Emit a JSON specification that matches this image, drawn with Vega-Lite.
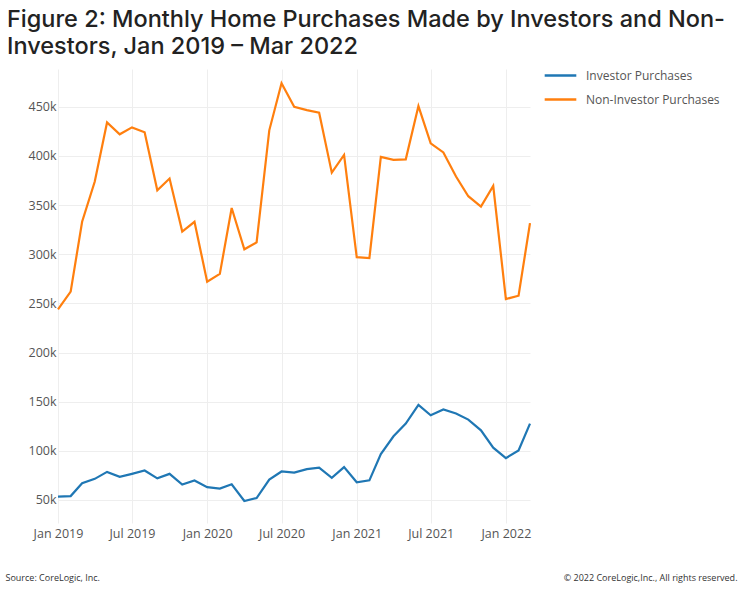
{
  "$schema": "https://vega.github.io/schema/vega-lite/v6.json",
  "width": 472,
  "height": 454,
  "autosize": {"type": "none"},
  "padding": {"left": 58, "top": 69, "right": 210, "bottom": 71},
  "background": "white",
  "title": {
    "text": ["Figure 2: Monthly Home Purchases Made by Investors and Non-", "Investors, Jan 2019 – Mar 2022"],
    "anchor": "start",
    "frame": "group",
    "dx": -51,
    "offset": 0,
    "font": "Inter",
    "fontSize": 23.5,
    "fontWeight": 500,
    "color": "#222222",
    "lineHeight": 27
  },
  "datasets": {
    "inv": [
      {"m": "2019-01-01", "v": 53400}, {"m": "2019-02-01", "v": 54000}, {"m": "2019-03-01", "v": 67000},
      {"m": "2019-04-01", "v": 71500}, {"m": "2019-05-01", "v": 78600}, {"m": "2019-06-01", "v": 73500},
      {"m": "2019-07-01", "v": 76600}, {"m": "2019-08-01", "v": 80000}, {"m": "2019-09-01", "v": 72000},
      {"m": "2019-10-01", "v": 76600}, {"m": "2019-11-01", "v": 65700}, {"m": "2019-12-01", "v": 69800},
      {"m": "2020-01-01", "v": 63000}, {"m": "2020-02-01", "v": 61600}, {"m": "2020-03-01", "v": 66000},
      {"m": "2020-04-01", "v": 49000}, {"m": "2020-05-01", "v": 52000}, {"m": "2020-06-01", "v": 70800},
      {"m": "2020-07-01", "v": 79000}, {"m": "2020-08-01", "v": 77800}, {"m": "2020-09-01", "v": 81400},
      {"m": "2020-10-01", "v": 83000}, {"m": "2020-11-01", "v": 72500}, {"m": "2020-12-01", "v": 83400},
      {"m": "2021-01-01", "v": 68000}, {"m": "2021-02-01", "v": 70000}, {"m": "2021-03-01", "v": 96700},
      {"m": "2021-04-01", "v": 114800}, {"m": "2021-05-01", "v": 127700}, {"m": "2021-06-01", "v": 146800},
      {"m": "2021-07-01", "v": 136200}, {"m": "2021-08-01", "v": 142000}, {"m": "2021-09-01", "v": 138000},
      {"m": "2021-10-01", "v": 131800}, {"m": "2021-11-01", "v": 120900}, {"m": "2021-12-01", "v": 103200},
      {"m": "2022-01-01", "v": 92600}, {"m": "2022-02-01", "v": 100400}, {"m": "2022-03-01", "v": 127700}
    ],
    "non": [
      {"m": "2019-01-01", "v": 244000}, {"m": "2019-02-01", "v": 262000}, {"m": "2019-03-01", "v": 333000},
      {"m": "2019-04-01", "v": 374000}, {"m": "2019-05-01", "v": 434000}, {"m": "2019-06-01", "v": 422000},
      {"m": "2019-07-01", "v": 429000}, {"m": "2019-08-01", "v": 424000}, {"m": "2019-09-01", "v": 365000},
      {"m": "2019-10-01", "v": 377000}, {"m": "2019-11-01", "v": 323000}, {"m": "2019-12-01", "v": 333000},
      {"m": "2020-01-01", "v": 272000}, {"m": "2020-02-01", "v": 280000}, {"m": "2020-03-01", "v": 347000},
      {"m": "2020-04-01", "v": 305000}, {"m": "2020-05-01", "v": 312000}, {"m": "2020-06-01", "v": 426000},
      {"m": "2020-07-01", "v": 474000}, {"m": "2020-08-01", "v": 450000}, {"m": "2020-09-01", "v": 446600},
      {"m": "2020-10-01", "v": 444000}, {"m": "2020-11-01", "v": 383000}, {"m": "2020-12-01", "v": 401000},
      {"m": "2021-01-01", "v": 297000}, {"m": "2021-02-01", "v": 296000}, {"m": "2021-03-01", "v": 399000},
      {"m": "2021-04-01", "v": 396000}, {"m": "2021-05-01", "v": 396500}, {"m": "2021-06-01", "v": 450700},
      {"m": "2021-07-01", "v": 412800}, {"m": "2021-08-01", "v": 403600}, {"m": "2021-09-01", "v": 379000},
      {"m": "2021-10-01", "v": 359000}, {"m": "2021-11-01", "v": 348500}, {"m": "2021-12-01", "v": 369500},
      {"m": "2022-01-01", "v": 254400}, {"m": "2022-02-01", "v": 257800}, {"m": "2022-03-01", "v": 331600}
    ]
  },
  "layer": [
    {
      "data": {"name": "inv"},
      "transform": [{"calculate": "'Investor Purchases'", "as": "series"}],
      "mark": {"type": "line", "strokeWidth": 2.2},
      "encoding": {
        "x": {"field": "m", "type": "temporal"},
        "y": {"field": "v", "type": "quantitative"},
        "color": {"field": "series", "type": "nominal"}
      }
    },
    {
      "data": {"name": "non"},
      "transform": [{"calculate": "'Non-Investor Purchases'", "as": "series"}],
      "mark": {"type": "line", "strokeWidth": 2.2},
      "encoding": {
        "x": {"field": "m", "type": "temporal"},
        "y": {"field": "v", "type": "quantitative"},
        "color": {"field": "series", "type": "nominal"}
      }
    }
  ],
  "encoding": {
    "x": {
      "field": "m",
      "type": "temporal",
      "scale": {"domain": [{"year": 2019, "month": 1, "date": 1}, {"year": 2022, "month": 3, "date": 1}]},
      "axis": {
        "title": "© 2022 CoreLogic,Inc., All rights reserved.",
        "titleAnchor": "end",
        "titleAlign": "right",
        "titleX": 679,
        "titleY": 50,
        "titleFont": "Open Sans",
        "titleFontSize": 9,
        "titleFontWeight": "normal",
        "titleColor": "#333333",
        "values": [
          {"year": 2019, "month": 1, "date": 1}, {"year": 2019, "month": 7, "date": 1},
          {"year": 2020, "month": 1, "date": 1}, {"year": 2020, "month": 7, "date": 1},
          {"year": 2021, "month": 1, "date": 1}, {"year": 2021, "month": 7, "date": 1},
          {"year": 2022, "month": 1, "date": 1}
        ],
        "format": "%b %Y",
        "labelFont": "Open Sans",
        "labelFontSize": 12.5,
        "labelColor": "#555555",
        "labelPadding": 4,
        "labelOverlap": false,
        "labelFlush": false,
        "ticks": false,
        "domain": false,
        "grid": true,
        "gridColor": "#eeeeee",
        "gridWidth": 1
      }
    },
    "y": {
      "field": "v",
      "type": "quantitative",
      "scale": {"domain": [26600, 488400], "nice": false, "zero": false},
      "axis": {
        "title": "Source: CoreLogic, Inc.",
        "titleAngle": 0,
        "titleAlign": "left",
        "titleBaseline": "alphabetic",
        "titleX": -53,
        "titleY": 511,
        "titleFont": "Open Sans",
        "titleFontSize": 9,
        "titleFontWeight": "normal",
        "titleColor": "#333333",
        "values": [50000, 100000, 150000, 200000, 250000, 300000, 350000, 400000, 450000],
        "format": "~s",
        "labelFont": "Open Sans",
        "labelFontSize": 12.5,
        "labelColor": "#555555",
        "labelPadding": 2,
        "ticks": false,
        "domain": false,
        "grid": true,
        "gridColor": "#eeeeee",
        "gridWidth": 1
      }
    },
    "color": {
      "field": "series",
      "type": "nominal",
      "scale": {"domain": ["Investor Purchases", "Non-Investor Purchases"], "range": ["#1f77b4", "#ff7f0e"]},
      "legend": {
        "title": null,
        "orient": "none",
        "legendX": 485,
        "legendY": -11,
        "symbolType": "stroke",
        "symbolSize": 1000,
        "symbolStrokeWidth": 2.5,
        "labelFont": "Open Sans",
        "labelFontSize": 12,
        "labelColor": "#555555",
        "labelOffset": 8,
        "rowPadding": -14
      }
    }
  },
  "config": {"view": {"stroke": null}}
}
